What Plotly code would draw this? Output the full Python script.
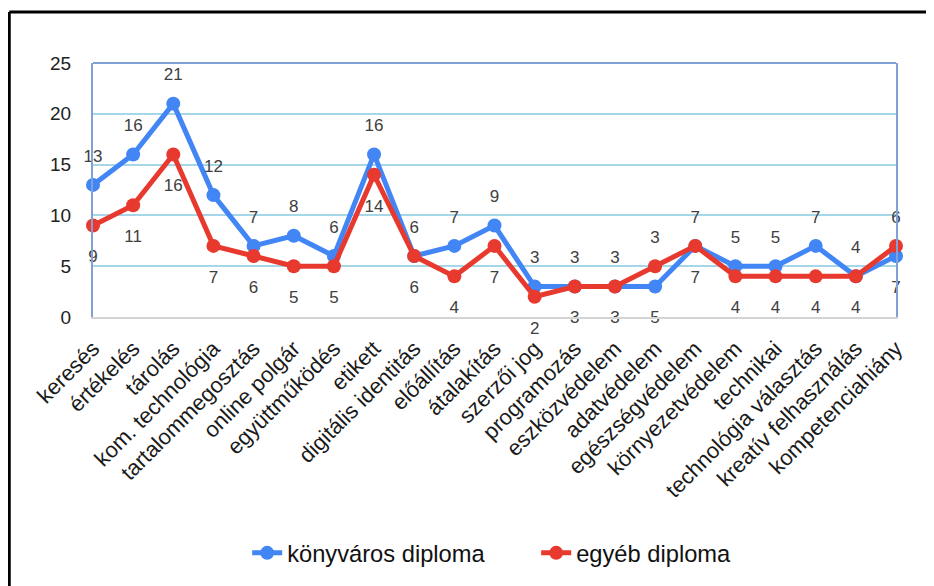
import plotly.graph_objects as go

categories = ["keresés", "értékelés", "tárolás", "kom. technológia", "tartalommegosztás",
              "online polgár", "együttműködés", "etikett", "digitális identitás", "előállítás",
              "átalakítás", "szerzői jog", "programozás", "eszközvédelem", "adatvédelem",
              "egészségvédelem", "környezetvédelem", "technikai", "technológia választás",
              "kreatív felhasználás", "kompetenciahiány"]
konyvtaros = [13, 16, 21, 12, 7, 8, 6, 16, 6, 7, 9, 3, 3, 3, 3, 7, 5, 5, 7, 4, 6]
egyeb = [9, 11, 16, 7, 6, 5, 5, 14, 6, 4, 7, 2, 3, 3, 5, 7, 4, 4, 4, 4, 7]
y_ticks = [0, 5, 10, 15, 20, 25]

BLUE = "#4285F4"
RED = "#E8392E"
FONT = "Liberation Sans, Arial, sans-serif"

upper = [max(a, b) for a, b in zip(konyvtaros, egyeb)]
lower = [min(a, b) for a, b in zip(konyvtaros, egyeb)]

fig = go.Figure()
fig.add_trace(go.Scatter(x=categories, y=konyvtaros, name="könyváros diploma",
                         mode="lines+markers", line=dict(color=BLUE, width=5),
                         marker=dict(size=14, color=BLUE), cliponaxis=False))
fig.add_trace(go.Scatter(x=categories, y=egyeb, name="egyéb diploma",
                         mode="lines+markers", line=dict(color=RED, width=5),
                         marker=dict(size=14, color=RED), cliponaxis=False))
# data labels (as in the original: first series above, second series below)
fig.add_trace(go.Scatter(x=categories, y=upper, text=[str(v) for v in konyvtaros],
                         mode="markers+text", textposition="top center",
                         marker=dict(size=29, color="rgba(0,0,0,0)"),
                         textfont=dict(size=17, color="#404040", family=FONT),
                         showlegend=False, hoverinfo="skip", cliponaxis=False))
fig.add_trace(go.Scatter(x=categories, y=lower, text=[str(v) for v in egyeb],
                         mode="markers+text", textposition="bottom center",
                         marker=dict(size=37, color="rgba(0,0,0,0)"),
                         textfont=dict(size=17, color="#404040", family=FONT),
                         showlegend=False, hoverinfo="skip", cliponaxis=False))

fig.update_layout(
    width=934, height=586,
    margin=dict(l=85, r=46, t=55, b=277),
    paper_bgcolor="white", plot_bgcolor="white",
    font=dict(family=FONT, color="#222222"),
    showlegend=True,
    legend=dict(orientation="h", x=0.192, xanchor="left", y=-0.929, yanchor="middle",
                font=dict(size=23.7, color="#111111", family=FONT),
                entrywidth=244, entrywidthmode="pixels",
                bgcolor="rgba(0,0,0,0)"),
    xaxis=dict(type="category", range=[0, len(categories) - 1], tickangle=-45,
               showgrid=False, showline=True, linecolor="#d4d4d4", linewidth=2,
               tickfont=dict(size=22, color="#1a1a1a", family=FONT),
               ticks="", ticklabelstandoff=8, automargin=False, zeroline=False),
    yaxis=dict(range=[0, 25], tickvals=y_ticks, showgrid=True, gridcolor="#A6D7E8",
               gridwidth=1.5, showline=True, linecolor="#7FA1D6", linewidth=2,
               mirror=True, zeroline=False, ticks="", ticklabelstandoff=16,
               tickfont=dict(size=19, color="#222222", family=FONT), automargin=False),
    shapes=[
        dict(type="line", xref="paper", yref="paper", x0=0, x1=1, y0=1, y1=1,
             line=dict(color="#7FA1D6", width=2)),
        dict(type="line", xref="paper", yref="paper", x0=-0.1043, x1=-0.1043, y0=1.2008, y1=-1.2,
             line=dict(color="black", width=3)),
        dict(type="line", xref="paper", yref="paper", x0=-0.1043, x1=1.1, y0=1.2008, y1=1.2008,
             line=dict(color="black", width=3)),
    ],
)

fig.write_html("out.html")
